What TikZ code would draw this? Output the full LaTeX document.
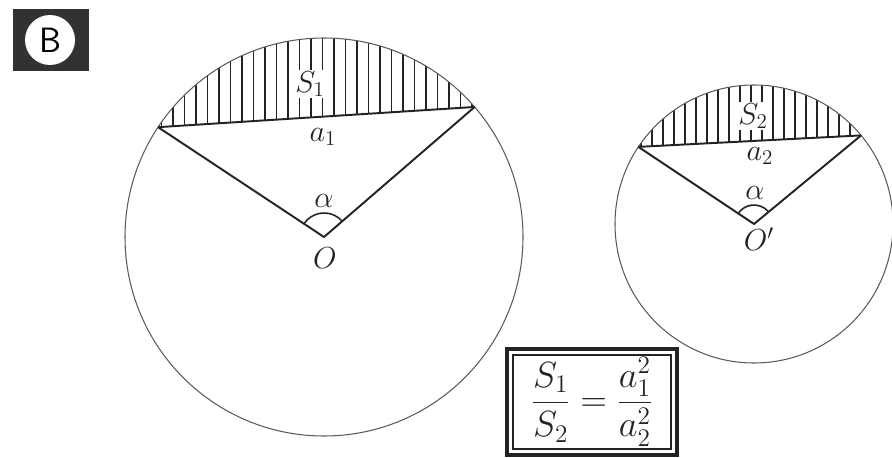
\documentclass[tikz,border=0pt]{standalone}
\usepackage{amsmath,amssymb}
\usepackage{xcolor}
\usepackage{tikz}
\usetikzlibrary{calc}
\definecolor{ink}{RGB}{35, 35, 35}
\definecolor{rimgray}{RGB}{90, 90, 90}
\definecolor{badge}{RGB}{50, 50, 50}

\begin{document}
\begin{tikzpicture}[
    x=0.02cm, y=0.02cm,
    rim/.style={draw=rimgray, line width=0.6pt},
    edge/.style={draw=ink, line width=1.1pt},
    hatch/.style={draw=ink, line width=0.7pt},
    lbl/.style={font=\LARGE, inner sep=1pt, text=ink},
    angmark/.style={draw=ink, line width=0.9pt}
]
\useasboundingbox (0,0) rectangle (892,457);

% Badge
\node[fill=badge, minimum width=1.54cm, minimum height=1.26cm, inner sep=0pt] (badgebox) at (51,417) {};
\node[circle, fill=white, minimum size=1.0cm, inner sep=0pt, font=\sffamily\fontsize{20}{20}\selectfont] (badgeletter) at (50,417) {B};

% Big circle
\coordinate (O1) at (324,220);
\coordinate (A1) at ($(O1)+(146.5:199)$);
\coordinate (B1) at ($(O1)+(40.8:199)$);
\begin{scope}
    \clip (A1) arc (146.5:40.8:199) -- cycle;
    \foreach \x in {150,161.5,...,480}
        \draw[hatch] (\x,300) -- (\x,430);
\end{scope}
\draw[rim] (O1) circle (199);
\draw[edge] (A1) -- (B1);
\draw[edge] (A1) -- (O1) -- (B1);
\draw[angmark] ($(O1)+(40.8:24)$) arc (40.8:146.5:24);

\node[lbl, fill=white] (S1) at (310,373) {$S_1$};
\node[lbl] (a1) at (323,320) {$a_1$};
\node[lbl] (alpha1) at (324,256) {$\alpha$};
\node[lbl] (O1lbl) at (325,199) {$O$};

% Small circle
\coordinate (O2) at (754,233);
\coordinate (A2) at ($(O2)+(146.3:139)$);
\coordinate (B2) at ($(O2)+(39.6:139)$);
\begin{scope}
    \clip (A2) arc (146.3:39.6:139) -- cycle;
    \foreach \x in {630,641,...,880}
        \draw[hatch] (\x,300) -- (\x,380);
\end{scope}
\draw[rim] (O2) circle (139);
\draw[edge] (A2) -- (B2);
\draw[edge] (A2) -- (O2) -- (B2);
\draw[angmark] ($(O2)+(39.6:19)$) arc (39.6:146.3:19);

\node[lbl, fill=white] (S2) at (753,341) {$S_2$};
\node[lbl] (a2) at (760,301) {$a_2$};
\node[lbl] (alpha2) at (755,264) {$\alpha$};
\node[lbl] (O2lbl) at (759,218) {$O'$};

% Ratio box
\node[font=\huge, text=ink] (ratio) at (592,55) {$\dfrac{S_1}{S_2}=\dfrac{a_1^2}{a_2^2}$};
\draw[draw=ink, line width=1.8pt] (507,2) rectangle (677,108);
\draw[draw=ink, line width=0.7pt] (513,8) rectangle (671,102);

\end{tikzpicture}
\end{document}
